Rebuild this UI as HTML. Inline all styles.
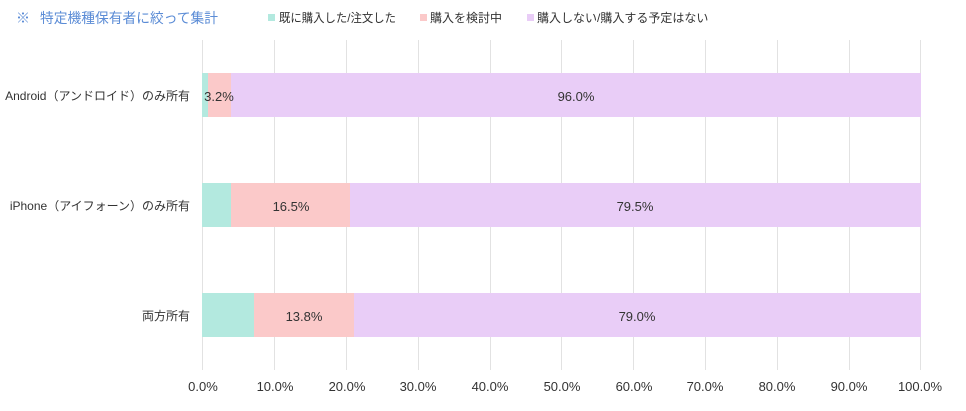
<!DOCTYPE html>
<html><head><meta charset="utf-8"><style>
body{margin:0;background:#fff;}
svg{display:block;font-family:"Liberation Sans","Noto Sans CJK JP",sans-serif;}
</style></head><body>
<svg width="966" height="411" viewBox="0 0 966 411">
<text x="16" y="23" font-size="14" fill="#5b8cd6">※</text>
<text x="40" y="23" font-size="14" fill="#5b8cd6" textLength="178" lengthAdjust="spacingAndGlyphs">特定機種保有者に絞って集計</text>
<rect x="268" y="14" width="7" height="7" fill="#b3e9df"/>
<text x="279" y="22" font-size="12" fill="#333" textLength="117" lengthAdjust="spacingAndGlyphs">既に購入した/注文した</text>
<rect x="420" y="14" width="7" height="7" fill="#fbc9c9"/>
<text x="430" y="22" font-size="12" fill="#333" textLength="72" lengthAdjust="spacingAndGlyphs">購入を検討中</text>
<rect x="527" y="14" width="7" height="7" fill="#e9cdf7"/>
<text x="537" y="22" font-size="12" fill="#333">購入しない/購入する予定はない</text>
<g stroke="#e2e2e2" stroke-width="1">
<line x1="202.5" y1="40" x2="202.5" y2="370"/>
<line x1="274.5" y1="40" x2="274.5" y2="370"/>
<line x1="346.5" y1="40" x2="346.5" y2="370"/>
<line x1="418.5" y1="40" x2="418.5" y2="370"/>
<line x1="490.5" y1="40" x2="490.5" y2="370"/>
<line x1="561.5" y1="40" x2="561.5" y2="370"/>
<line x1="633.5" y1="40" x2="633.5" y2="370"/>
<line x1="705.5" y1="40" x2="705.5" y2="370"/>
<line x1="777.5" y1="40" x2="777.5" y2="370"/>
<line x1="849.5" y1="40" x2="849.5" y2="370"/>
<line x1="920.5" y1="40" x2="920.5" y2="370"/>
</g>
<rect x="202" y="73" width="6" height="44" fill="#b3e9df"/>
<rect x="208" y="73" width="23" height="44" fill="#fbc9c9"/>
<rect x="231" y="73" width="690" height="44" fill="#e9cdf7"/>
<rect x="202" y="183" width="29" height="44" fill="#b3e9df"/>
<rect x="231" y="183" width="119" height="44" fill="#fbc9c9"/>
<rect x="350" y="183" width="571" height="44" fill="#e9cdf7"/>
<rect x="202" y="293" width="52" height="44" fill="#b3e9df"/>
<rect x="254" y="293" width="100" height="44" fill="#fbc9c9"/>
<rect x="354" y="293" width="567" height="44" fill="#e9cdf7"/>
<g font-size="13" fill="#333" text-anchor="middle">
<text x="219" y="101">3.2%</text>
<text x="576" y="101">96.0%</text>
<text x="291" y="211">16.5%</text>
<text x="635" y="211">79.5%</text>
<text x="304" y="321">13.8%</text>
<text x="637" y="321">79.0%</text>
</g>
<g font-size="12" fill="#333" text-anchor="end">
<text x="190" y="100">Android（アンドロイド）のみ所有</text>
<text x="190" y="210">iPhone（アイフォーン）のみ所有</text>
<text x="190" y="320">両方所有</text>
</g>
<g font-size="13" fill="#333" text-anchor="middle">
<text x="203" y="391">0.0%</text>
<text x="275" y="391">10.0%</text>
<text x="347" y="391">20.0%</text>
<text x="418" y="391">30.0%</text>
<text x="490" y="391">40.0%</text>
<text x="562" y="391">50.0%</text>
<text x="634" y="391">60.0%</text>
<text x="705" y="391">70.0%</text>
<text x="777" y="391">80.0%</text>
<text x="849" y="391">90.0%</text>
<text x="920" y="391">100.0%</text>
</g>
</svg>
</body></html>
